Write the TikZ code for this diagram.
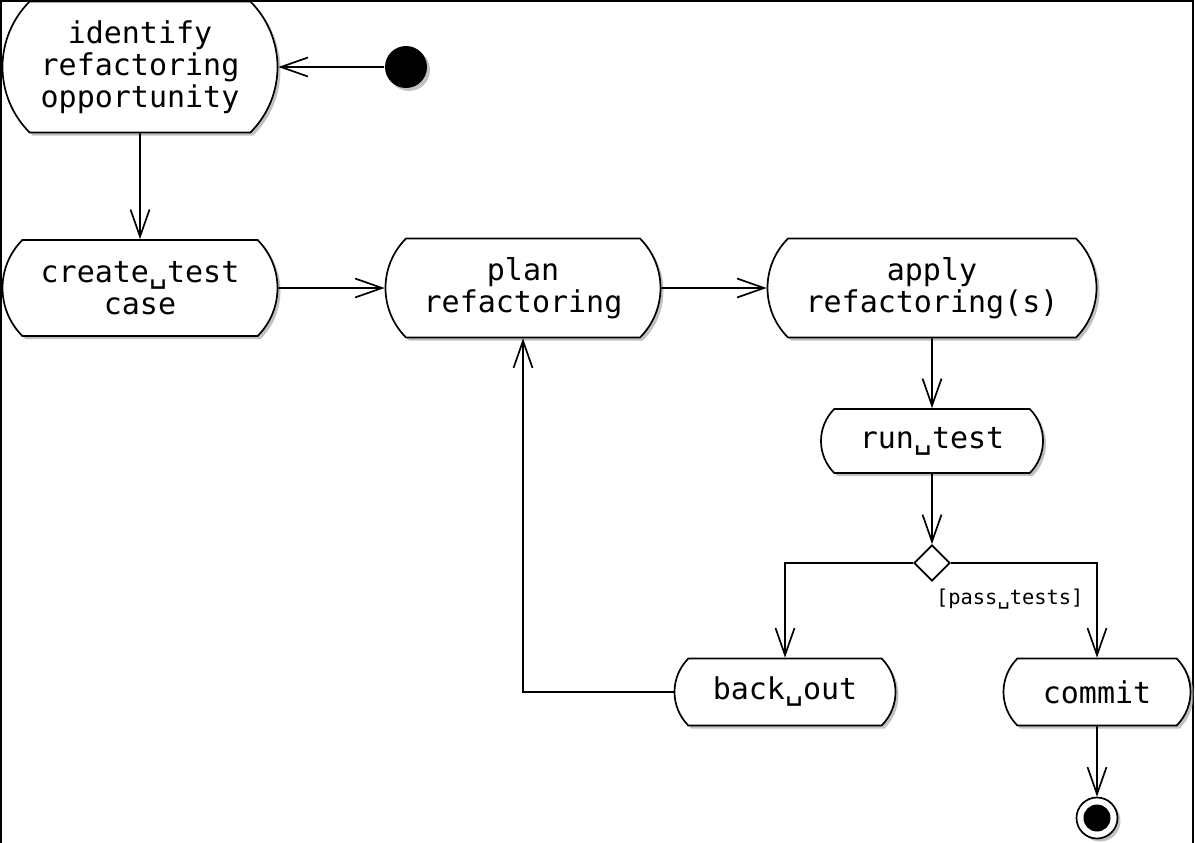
\documentclass[tikz,border=0pt]{standalone}
\usepackage{fontspec}
\setmonofont{DejaVu Sans Mono}
\usetikzlibrary{shapes.misc, shapes.geometric, shadows, arrows.meta}

\begin{document}
\begin{tikzpicture}[
  x = 0.5pt, y = -0.5pt,
  line width = 0.85pt,
  >={Straight Barb[length=13.5pt, width=9.5pt, line width=0.85pt]},
  activity/.style = {rounded rectangle, rounded rectangle arc length = 90,
    draw, fill = white, align = center, inner sep = 0pt,
    font = \fontsize{15}{16}\selectfont\ttfamily,
    drop shadow = {shadow xshift = 1.5pt, shadow yshift = -1.5pt,
      fill = black!35, opacity = 0.7}},
  start/.style = {circle, fill, minimum size = 21pt, inner sep = 0pt,
    drop shadow = {shadow xshift = 1.5pt, shadow yshift = -1.5pt,
      fill = black!35, opacity = 0.7}},
  final/.style = {circle, draw, fill = white, minimum size = 20.5pt,
    inner sep = 0pt,
    drop shadow = {shadow xshift = 1.5pt, shadow yshift = -1.5pt,
      fill = black!35, opacity = 0.7},
    path picture = {\fill [black] (path picture bounding box.center)
      circle (6.75pt);}},
  decision/.style = {diamond, draw, fill = white, minimum size = 18pt,
    inner sep = 0pt},
  guard/.style = {font = \fontsize{10.2}{12}\selectfont\ttfamily}
  ]

  \useasboundingbox (0,0) rectangle (1195,842);
  \draw (1,1) rectangle (1193,870);

  % Nodes
  \node at ( 406,  67) [start, name = init] {};
  \node at ( 140,  67) [activity, minimum width = 137.5pt,
    minimum height = 65.5pt, name = identify]
    {identify\\refactoring\\opportunity};
  \node at ( 140, 288) [activity, minimum width = 137.5pt,
    minimum height = 48pt, name = create] {create␣test\\case};
  \node at ( 523, 288) [activity, minimum width = 137.5pt,
    minimum height = 49.5pt, name = plan] {plan\\refactoring};
  \node at ( 932, 288) [activity, minimum width = 164.5pt,
    minimum height = 49.5pt, name = apply] {apply\\refactoring(s)};
  \node at ( 932, 441) [activity, minimum width = 111pt,
    minimum height = 32pt, name = run] {run␣test};
  \node at ( 932, 563) [decision, name = dec] {};
  \node at ( 785, 692) [activity, minimum width = 110.5pt,
    minimum height = 33.5pt, name = back] {back␣out};
  \node at (1097, 692) [activity, minimum width = 93.5pt,
    minimum height = 33.5pt, name = commit] {commit};
  \node at (1097, 818) [final, name = done] {};

  % Transitions
  \draw [->] (init) to (identify);
  \draw [->] (identify) to (create);
  \draw [->] (create) to (plan);
  \draw [->] (plan) to (apply);
  \draw [->] (apply) to (run);
  \draw [->] (run) to (dec);
  \draw [->] (dec) -| (back);
  \draw [->] (dec) -| node [guard, pos = 0.5, anchor = north east,
    xshift = -3pt, yshift = -9pt] {[pass␣tests]} (commit);
  \draw [->] (back) -| (plan);
  \draw [->] (commit) to (done);

\end{tikzpicture}
\end{document}
